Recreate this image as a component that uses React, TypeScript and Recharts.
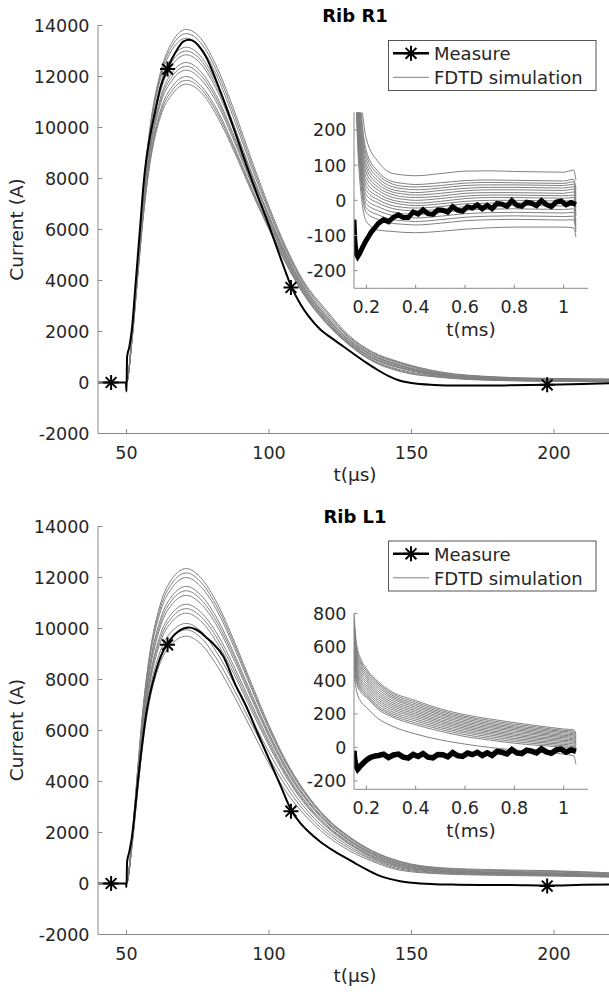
import { LineChart, Line, XAxis, YAxis } from 'recharts';

const FONT = '"DejaVu Sans", sans-serif';
const TXT = '#262626';
const AXC = '#8a8a8a';
const SIM = '#808080';

// axes ticks
const mainXTicks = [50, 100, 150, 200];
const mainYTicks = [-2000, 0, 2000, 4000, 6000, 8000, 10000, 12000, 14000];
const insetXTicks = [0.2, 0.4, 0.6, 0.8, 1];
const insetYTicksR1 = [-200, -100, 0, 100, 200];
const insetYTicksL1 = [-200, 0, 200, 400, 600, 800];

// measured current, t in µs
const measT = [40, 49.8, 50, 50.2, 51, 52, 53, 54, 55, 56, 57, 58, 60, 62, 64, 66, 68, 70, 72, 74, 76, 78, 80, 84, 88, 92, 96, 100, 104, 108, 111, 114, 118, 122, 126, 130, 134, 138, 142, 146, 150, 158, 166, 175, 185, 198, 210, 220];
const measR1 = [0, 0, -350, 1000, 1400, 2200, 3600, 5000, 6400, 7800, 8800, 9500, 10600, 11600, 12200, 12700, 13100, 13380, 13440, 13350, 13100, 12750, 12250, 11100, 9850, 8550, 7330, 6150, 4900, 3720, 3080, 2580, 2080, 1740, 1420, 1100, 790, 500, 250, 70, -20, -95, -120, -120, -110, -90, -60, -30];
const measL1 = [0, 0, -150, 850, 1250, 1900, 2900, 4000, 5000, 5900, 6700, 7300, 8200, 8900, 9330, 9650, 9870, 10000, 10040, 9980, 9850, 9650, 9450, 8900, 7850, 6950, 5900, 4880, 3850, 2830, 2370, 2020, 1640, 1330, 1060, 810, 560, 340, 190, 90, 30, -25, -45, -55, -60, -80, -50, -40];

// FDTD simulations, t in µs
const simT = [40, 50, 52, 54, 56, 58, 62, 66, 71, 76, 82, 88, 94, 100, 106, 112, 120, 128, 136, 146, 160, 180, 200, 220];
const simR1 = [
  [0, 0, 2000, 4900, 7700, 9800, 12200, 13350, 13850, 13500, 12300, 10600, 8700, 6900, 5300, 4000, 2850, 1850, 1220, 800, 420, 220, 160, 140],
  [0, 0, 1975, 4850, 7600, 9700, 12080, 13200, 13680, 13330, 12130, 10430, 8550, 6800, 5230, 3940, 2780, 1800, 1190, 770, 395, 205, 145, 125],
  [0, 0, 1950, 4800, 7500, 9600, 11950, 13050, 13500, 13150, 11950, 10250, 8400, 6700, 5150, 3880, 2700, 1760, 1150, 740, 370, 190, 130, 110],
  [0, 0, 1900, 4700, 7350, 9400, 11700, 12750, 13150, 12800, 11650, 10000, 8200, 6550, 5050, 3800, 2620, 1700, 1100, 690, 340, 170, 120, 100],
  [0, 0, 1875, 4650, 7280, 9300, 11580, 12600, 13000, 12650, 11530, 9900, 8130, 6500, 5000, 3760, 2590, 1680, 1080, 665, 325, 160, 110, 90],
  [0, 0, 1850, 4600, 7200, 9200, 11450, 12450, 12850, 12500, 11400, 9800, 8050, 6450, 4950, 3720, 2560, 1650, 1050, 640, 310, 150, 100, 80],
  [0, 0, 1800, 4500, 7050, 9000, 11200, 12150, 12550, 12200, 11150, 9600, 7900, 6350, 4870, 3650, 2500, 1600, 1000, 600, 290, 130, 90, 70],
  [0, 0, 1790, 4450, 6980, 8900, 11080, 12000, 12400, 12050, 11030, 9500, 7830, 6300, 4840, 3630, 2470, 1580, 980, 580, 280, 125, 85, 65],
  [0, 0, 1780, 4400, 6900, 8800, 10950, 11850, 12250, 11900, 10900, 9400, 7750, 6250, 4800, 3600, 2440, 1560, 960, 560, 270, 120, 80, 60],
  [0, 0, 1750, 4300, 6750, 8600, 10700, 11600, 12000, 11650, 10650, 9200, 7600, 6120, 4720, 3540, 2390, 1520, 910, 500, 240, 100, 60, 40],
  [0, 0, 1720, 4250, 6680, 8500, 10580, 11450, 11850, 11530, 10530, 9100, 7530, 6060, 4690, 3510, 2360, 1500, 880, 465, 220, 90, 52, 32],
  [0, 0, 1700, 4200, 6600, 8400, 10450, 11300, 11700, 11400, 10400, 9000, 7450, 6000, 4650, 3480, 2330, 1480, 850, 430, 200, 80, 45, 25],
];
const simL1 = [
  [0, 0, 1900, 4600, 7100, 8900, 11000, 11950, 12350, 12000, 10950, 9450, 7800, 6200, 4800, 3700, 2600, 1850, 1300, 870, 620, 540, 500, 420],
  [0, 0, 1880, 4550, 7020, 8800, 10850, 11780, 12180, 11830, 10800, 9330, 7700, 6130, 4750, 3660, 2570, 1830, 1280, 845, 600, 510, 475, 400],
  [0, 0, 1850, 4500, 6950, 8700, 10700, 11600, 12000, 11650, 10650, 9200, 7600, 6050, 4700, 3620, 2540, 1800, 1250, 820, 580, 480, 450, 380],
  [0, 0, 1800, 4400, 6750, 8450, 10400, 11280, 11650, 11320, 10350, 8950, 7400, 5900, 4580, 3520, 2470, 1740, 1200, 780, 550, 450, 420, 350],
  [0, 0, 1780, 4330, 6650, 8330, 10250, 11120, 11480, 11150, 10200, 8830, 7300, 5830, 4520, 3470, 2440, 1710, 1180, 760, 535, 435, 405, 340],
  [0, 0, 1750, 4250, 6550, 8200, 10100, 10950, 11300, 10980, 10050, 8700, 7200, 5750, 4450, 3420, 2400, 1680, 1150, 740, 520, 420, 390, 330],
  [0, 0, 1700, 4100, 6350, 7950, 9800, 10600, 10950, 10650, 9750, 8450, 7000, 5600, 4330, 3320, 2320, 1620, 1100, 700, 490, 400, 370, 310],
  [0, 0, 1680, 4050, 6250, 7830, 9650, 10440, 10780, 10480, 9580, 8300, 6880, 5500, 4260, 3260, 2280, 1590, 1070, 675, 475, 390, 360, 300],
  [0, 0, 1650, 4000, 6150, 7700, 9500, 10280, 10600, 10300, 9400, 8150, 6750, 5400, 4180, 3200, 2230, 1550, 1040, 650, 460, 380, 350, 290],
  [0, 0, 1580, 3850, 5950, 7450, 9150, 9900, 10200, 9900, 9000, 7800, 6450, 5150, 4000, 3050, 2120, 1470, 990, 610, 430, 360, 330, 270],
  [0, 0, 1540, 3780, 5830, 7280, 8930, 9650, 9950, 9650, 8750, 7550, 6230, 4930, 3800, 2900, 2010, 1390, 940, 565, 405, 340, 310, 260],
  [0, 0, 1500, 3700, 5700, 7100, 8700, 9400, 9700, 9400, 8500, 7300, 6000, 4700, 3600, 2750, 1900, 1300, 880, 520, 380, 320, 290, 250],
];

// asterisk markers on the measured curve
const marksR1 = [{ t: 44.6, v: 0 }, { t: 64.4, v: 12290 }, { t: 107.7, v: 3725 }, { t: 197.6, v: -90 }];
const marksL1 = [{ t: 44.6, v: 0 }, { t: 64.4, v: 9360 }, { t: 107.7, v: 2835 }, { t: 197.6, v: -100 }];

// inset: measured, t in ms
const imT = [0.15, 0.153, 0.158, 0.165, 0.172, 0.18, 0.19, 0.2, 0.21, 0.22, 0.23, 0.24, 0.25,
  0.27, 0.29, 0.31, 0.33, 0.35, 0.37, 0.39, 0.41, 0.43, 0.45, 0.47, 0.49, 0.51, 0.53, 0.55, 0.57, 0.59, 0.61, 0.63, 0.65,
  0.67, 0.69, 0.71, 0.73, 0.75, 0.77, 0.79, 0.81, 0.83, 0.85, 0.87, 0.89, 0.91, 0.93, 0.95, 0.97, 0.99, 1.01, 1.03, 1.05];
const imR1 = [-55, -110, -150, -160, -152, -140, -126, -113, -102, -90, -82, -73, -65,
  -55, -61, -48, -41, -49, -49, -33, -39, -27, -38, -40, -27, -28, -34, -18, -28, -31, -18, -22, -13,
  -24, -14, -24, -9, -11, -17, -1, -14, -17, -5, -8, -15, -1, -12, -18, -5, -2, -13, -6, -12];
const imL1 = [-20, -70, -110, -130, -118, -105, -90, -76, -66, -58, -54, -50, -48,
  -40, -60, -45, -40, -58, -63, -42, -54, -37, -58, -62, -42, -44, -56, -31, -49, -54, -34, -43, -29,
  -48, -32, -48, -24, -29, -39, -13, -33, -37, -17, -22, -33, -9, -27, -35, -15, -10, -28, -15, -23];

// inset: simulations, t in ms
const isT1 = [0.15, 0.17, 0.2, 0.25, 0.3, 0.35, 0.4, 0.5, 0.6, 0.7, 0.8, 0.9, 1.0, 1.04, 1.05];
const isR1 = [
  [650, 380, 175, 108, 78, 72, 70, 76, 83, 84, 82, 81, 80, 86, 58],
  [620, 340, 140, 80, 55, 48, 45, 50, 56, 58, 57, 56, 55, 60, 35],
  [610, 320, 128, 72, 48, 40, 38, 42, 49, 51, 50, 49, 48, 53, 28],
  [600, 300, 115, 63, 40, 33, 30, 35, 42, 44, 44, 43, 42, 46, 20],
  [590, 285, 102, 54, 32, 25, 22, 28, 34, 37, 37, 36, 35, 39, 12],
  [580, 270, 90, 45, 25, 18, 15, 20, 27, 30, 30, 29, 28, 32, 5],
  [570, 255, 78, 36, 18, 10, 8, 12, 20, 22, 22, 21, 20, 24, -4],
  [560, 240, 65, 28, 10, 3, 0, 5, 12, 15, 15, 14, 13, 15, -12],
  [550, 225, 52, 19, 2, -5, -8, -3, 5, 8, 8, 7, 6, 8, -20],
  [540, 210, 40, 10, -5, -12, -15, -10, -3, 0, 0, -1, -2, 0, -30],
  [530, 195, 28, 1, -14, -20, -22, -18, -10, -8, -7, -8, -9, -7, -38],
  [520, 180, 15, -8, -22, -28, -30, -25, -18, -15, -14, -15, -16, -14, -45],
  [510, 165, 2, -19, -32, -38, -40, -35, -28, -25, -24, -25, -26, -24, -58],
  [500, 150, -10, -30, -42, -47, -50, -45, -38, -35, -34, -35, -36, -34, -70],
  [490, 135, -22, -42, -54, -58, -60, -55, -48, -45, -44, -45, -46, -45, -80],
  [480, 120, -35, -55, -65, -68, -70, -65, -58, -55, -54, -55, -56, -55, -90],
  [460, 90, -60, -85, -88, -91, -92, -88, -82, -78, -76, -76, -76, -78, -105],
];
const isT2 = [0.15, 0.16, 0.18, 0.2, 0.25, 0.3, 0.4, 0.5, 0.6, 0.7, 0.8, 0.9, 1.0, 1.04, 1.05];
const isL1 = [
  [800, 620, 520, 470, 390, 335, 280, 230, 195, 170, 148, 128, 110, 105, 85],
  [770, 600, 505, 458, 380, 325, 270, 221, 186, 161, 139, 120, 102, 97, 78],
  [740, 580, 490, 445, 370, 315, 260, 212, 178, 152, 130, 112, 95, 90, 70],
  [715, 562, 475, 432, 358, 305, 250, 203, 169, 143, 122, 104, 88, 82, 62],
  [690, 545, 460, 420, 345, 295, 240, 195, 160, 135, 114, 96, 80, 75, 55],
  [665, 528, 445, 408, 332, 283, 230, 185, 151, 126, 106, 88, 72, 68, 48],
  [640, 510, 430, 395, 320, 272, 220, 176, 142, 118, 98, 80, 65, 60, 40],
  [620, 495, 415, 382, 308, 261, 210, 166, 133, 109, 89, 72, 58, 52, 32],
  [600, 480, 400, 370, 295, 250, 200, 157, 124, 100, 80, 63, 50, 45, 25],
  [580, 465, 388, 358, 282, 239, 190, 148, 115, 92, 72, 55, 42, 38, 18],
  [560, 450, 375, 345, 270, 228, 180, 138, 106, 83, 63, 47, 35, 30, 10],
  [540, 435, 362, 332, 258, 216, 169, 128, 96, 74, 54, 38, 26, 21, 0],
  [520, 420, 350, 320, 245, 205, 158, 118, 87, 64, 45, 30, 18, 12, -10],
  [500, 405, 338, 310, 235, 195, 146, 108, 76, 54, 35, 21, 10, 5, -18],
  [480, 390, 325, 300, 225, 185, 135, 97, 65, 44, 25, 12, 2, -2, -25],
  [450, 340, 270, 240, 170, 130, 80, 45, 20, 0, -15, -30, -40, -50, -100],
];

const zip = (ts: number[], vs: number[]) => ts.map((t, i) => ({ t, v: vs[i] }));

function Star({ cx, cy }: any) {
  if (cx == null || cy == null) return null;
  const r = 7.5;
  const d = r * 0.72;
  return (
    <g stroke="#000" strokeWidth={2}>
      <line x1={cx - r} y1={cy} x2={cx + r} y2={cy} />
      <line x1={cx} y1={cy - r} x2={cx} y2={cy + r} />
      <line x1={cx - d} y1={cy - d} x2={cx + d} y2={cy + d} />
      <line x1={cx - d} y1={cy + d} x2={cx + d} y2={cy - d} />
    </g>
  );
}

// ticks point inward, like the original figure
const leftTick = (len: number, gap: number) => (p: any) => (
  <g>
    <line x1={p.x} x2={p.x + len} y1={p.y} y2={p.y} stroke={AXC} />
    <text x={p.x - gap} y={p.y + 6.4} textAnchor="end" fontSize={17.5} fill={TXT} fontFamily={FONT}>
      {p.payload.value}
    </text>
  </g>
);
const bottomTick = (len: number) => (p: any) => (
  <g>
    <line x1={p.x} x2={p.x} y1={p.y} y2={p.y - len} stroke={AXC} />
    <text x={p.x} y={p.y + 25} textAnchor="middle" fontSize={17.5} fill={TXT} fontFamily={FONT}>
      {p.payload.value}
    </text>
  </g>
);
const rightTick = (p: any) => <line x1={p.x} x2={p.x - 4.5} y1={p.y} y2={p.y} stroke={AXC} />;
const topTick = (p: any) => <line x1={p.x} x2={p.x} y1={p.y} y2={p.y + 4.5} stroke={AXC} />;

function MainPanel({ top, sims, meas, marks }: { top: number; sims: number[][]; meas: number[]; marks: { t: number; v: number }[] }) {
  return (
    <div style={{ position: 'absolute', left: 0, top }}>
      <LineChart width={611} height={494} margin={{ top: 25.5, right: 0, bottom: 0, left: 0 }}>
        <XAxis dataKey="t" type="number" domain={[40, 220]} ticks={mainXTicks} allowDataOverflow height={60.5}
          tickSize={0} tickMargin={0} tickLine={false} axisLine={{ stroke: AXC }} tick={bottomTick(4.5)} />
        <XAxis xAxisId="top" orientation="top" dataKey="t" type="number" domain={[40, 220]} ticks={mainXTicks} allowDataOverflow height={0}
          tickSize={0} tickMargin={0} tickLine={false} axisLine={{ stroke: AXC }} tick={topTick} />
        <YAxis type="number" domain={[-2000, 14000]} ticks={mainYTicks} allowDataOverflow width={98}
          tickSize={0} tickMargin={0} tickLine={false} axisLine={{ stroke: AXC }} tick={leftTick(4.5, 8.5)} />
        <YAxis yAxisId="right" orientation="right" type="number" domain={[-2000, 14000]} ticks={mainYTicks} allowDataOverflow width={0}
          tickSize={0} tickMargin={0} tickLine={false} axisLine={false} tick={rightTick} />
        {sims.map((s, i) => (
          <Line key={i} data={zip(simT, s)} dataKey="v" type="monotone" stroke={SIM} strokeWidth={1} dot={false} isAnimationActive={false} />
        ))}
        <Line data={zip(measT, meas)} dataKey="v" type="monotone" stroke="#000" strokeWidth={2} dot={false} isAnimationActive={false} />
        <Line data={marks} dataKey="v" stroke="none" dot={(p: any) => <Star key={p.index} cx={p.cx} cy={p.cy} />} isAnimationActive={false} />
      </LineChart>
    </div>
  );
}

function Inset({ top, simTs, sims, meas, width, yDomain, yTicks }: { top: number; simTs: number[]; sims: number[][]; meas: number[]; width: number; yDomain: number[]; yTicks: number[] }) {
  return (
    <div style={{ position: 'absolute', left: 294, top }}>
      <LineChart width={294.3} height={228} margin={{ top: 12.4, right: 0, bottom: 0, left: 0 }}>
        <XAxis dataKey="t" type="number" domain={[0.15, 1.1]} ticks={insetXTicks} allowDataOverflow height={39.7}
          tickSize={0} tickMargin={0} tickLine={false} axisLine={{ stroke: AXC }} tick={bottomTick(3.5)} />
        <YAxis type="number" domain={yDomain} ticks={yTicks} allowDataOverflow width={60}
          tickSize={0} tickMargin={0} tickLine={false} axisLine={{ stroke: AXC }} tick={leftTick(3.5, 7.5)} />
        {sims.map((s, i) => (
          <Line key={i} data={zip(simTs, s)} dataKey="v" type="monotone" stroke={SIM} strokeWidth={1} dot={false} isAnimationActive={false} />
        ))}
        <Line data={zip(imT, meas)} dataKey="v" type="linear" stroke="#000" strokeWidth={width} dot={false} isAnimationActive={false} />
      </LineChart>
    </div>
  );
}

function Labels({ dy, title }: { dy: number; title: string }) {
  return (
    <g transform={`translate(0 ${dy})`} fontFamily={FONT} fill={TXT}>
      <text x={355} y={22} textAnchor="middle" fontSize={18} fontWeight="bold" fill="#000">{title}</text>
      <text x={355} y={481} textAnchor="middle" fontSize={18.5}>t(μs)</text>
      <text transform="translate(23 229.4) rotate(-90)" textAnchor="middle" fontSize={18.5}>Current (A)</text>
      <text x={471} y={336} textAnchor="middle" fontSize={18.5}>t(ms)</text>
      <rect x={388.5} y={40.5} width={207.5} height={50} fill="#fff" stroke="#555" strokeWidth={1} />
      <line x1={393} x2={429} y1={53.3} y2={53.3} stroke="#000" strokeWidth={2.5} />
      <Star cx={411} cy={53.3} />
      <text x={434} y={60} fontSize={18}>Measure</text>
      <line x1={393} x2={429} y1={77.3} y2={77.3} stroke={SIM} strokeWidth={1} />
      <text x={434} y={84} fontSize={18}>FDTD simulation</text>
    </g>
  );
}

export default function App() {
  return (
    <div style={{ position: 'absolute', left: 0, top: 0, width: 609, height: 992, overflow: 'hidden', background: '#fff' }}>
      <MainPanel top={0} sims={simR1} meas={measR1} marks={marksR1} />
      <MainPanel top={500.5} sims={simL1} meas={measL1} marks={marksL1} />
      <Inset top={100} simTs={isT1} sims={isR1} meas={imR1} width={5} yDomain={[-250, 250]} yTicks={insetYTicksR1} />
      <Inset top={600.5} simTs={isT2} sims={isL1} meas={imL1} width={5.5} yDomain={[-250, 800]} yTicks={insetYTicksL1} />
      <svg width={609} height={992} style={{ position: 'absolute', left: 0, top: 0, pointerEvents: 'none' }}>
        <Labels dy={0} title="Rib R1" />
        <Labels dy={500.5} title="Rib L1" />
      </svg>
    </div>
  );
}
